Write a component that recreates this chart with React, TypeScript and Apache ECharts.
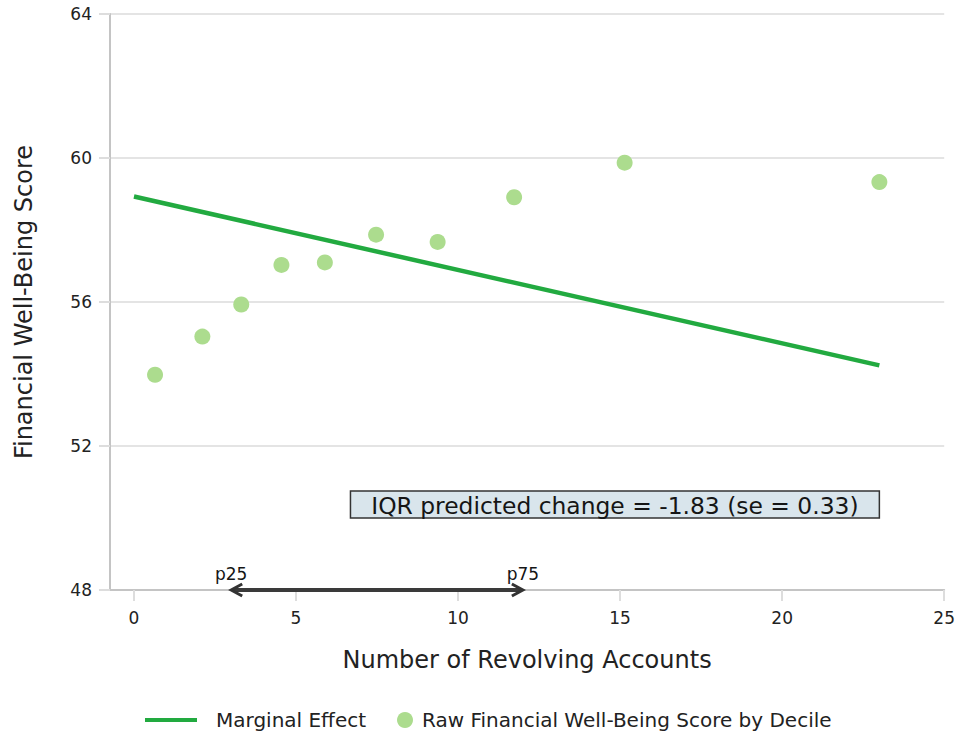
import React, { useEffect, useRef } from "react";
import * as echarts from "echarts";

const decileX = [0.65, 2.11, 3.31, 4.55, 5.89, 7.47, 9.37, 11.73, 15.14, 23.0];
const decileY = [53.98, 55.04, 55.93, 57.03, 57.1, 57.87, 57.67, 58.91, 59.87, 59.33];
const effectX = [0, 23];
const effectY = [58.93, 54.24];
const xTickValues = [0, 5, 10, 15, 20, 25];
const iqrFrom = 3;
const iqrTo = 12;
const iqrY = 48;
const iqrLabels = ["p25", "p75"];
const boxX = [6.68, 23];
const boxY = [50, 50.75];
const boxText = "IQR predicted change = -1.83 (se = 0.33)";
const seriesNames = ["Marginal Effect", "Raw Financial Well-Being Score by Decile"];

const FONT = "DejaVu Sans";

export default function App() {
  const ref = useRef<HTMLDivElement>(null);
  useEffect(() => {
    if (!ref.current) return;
    const chart = echarts.init(ref.current, undefined, { renderer: "svg" });
    const option: any = {
      animation: false,
      backgroundColor: "#ffffff",
      textStyle: { fontFamily: FONT },
      grid: { left: 110, right: 12, top: 14, bottom: 144, containLabel: false },
      legend: [
        {
          data: [{ name: seriesNames[0], icon: "rect" }],
          left: 145,
          top: 710,
          padding: 0,
          itemWidth: 52,
          itemHeight: 4,
          textStyle: { fontSize: 20, color: "#222", fontFamily: FONT, padding: [0, 0, 0, 14] },
        },
        {
          data: [{ name: seriesNames[1], icon: "circle" }],
          left: 397,
          top: 710,
          padding: 0,
          itemWidth: 16,
          itemHeight: 16,
          textStyle: { fontSize: 20, color: "#222", fontFamily: FONT, padding: [0, 0, 0, 4] },
        },
      ],
      xAxis: {
        type: "value",
        min: -0.74,
        max: 25,
        name: "Number of Revolving Accounts",
        nameLocation: "middle",
        nameGap: 58,
        nameTextStyle: { fontSize: 24, color: "#222", fontFamily: FONT },
        axisLine: { show: true, onZero: false, lineStyle: { color: "#c4c4c4", width: 2 } },
        axisTick: { show: true, length: 11, customValues: xTickValues, lineStyle: { color: "#dddddd", width: 2 } },
        axisLabel: { customValues: xTickValues, fontSize: 17, color: "#222", margin: 19, fontFamily: FONT },
        splitLine: { show: false },
      },
      yAxis: {
        type: "value",
        min: 48,
        max: 64,
        interval: 4,
        name: "Financial Well-Being Score",
        nameLocation: "middle",
        nameRotate: 90,
        nameGap: 74,
        nameTextStyle: { fontSize: 24, color: "#222", fontFamily: FONT },
        axisLine: { show: true, onZero: false, lineStyle: { color: "#c4c4c4", width: 2 } },
        axisTick: { show: true, length: 11, lineStyle: { color: "#dddddd", width: 2 } },
        axisLabel: { fontSize: 17, color: "#222", margin: 18, fontFamily: FONT },
        splitLine: { show: true, lineStyle: { color: "#e4e4e4", width: 2 } },
      },
      series: [
        {
          name: seriesNames[1],
          type: "scatter",
          symbol: "circle",
          symbolSize: 16,
          itemStyle: { color: "#acdc8e", opacity: 1 },
          data: decileX.map((x, i) => [x, decileY[i]]),
          z: 3,
        },
        {
          name: seriesNames[0],
          type: "line",
          symbol: "none",
          lineStyle: { color: "#22aa40", width: 4.5 },
          itemStyle: { color: "#22aa40" },
          data: effectX.map((x, i) => [x, effectY[i]]),
          z: 4,
        },
        {
          type: "custom",
          clip: false,
          silent: true,
          z: 5,
          data: [[boxX[0], boxX[1], boxY[0], boxY[1]]],
          renderItem: (params: any, api: any) => {
            const p0 = api.coord([api.value(0), api.value(3)]);
            const p1 = api.coord([api.value(1), api.value(2)]);
            return {
              type: "group",
              children: [
                {
                  type: "rect",
                  shape: { x: p0[0], y: p0[1], width: p1[0] - p0[0], height: p1[1] - p0[1] },
                  style: { fill: "#d9e5ec", stroke: "#333333", lineWidth: 1.5 },
                },
                {
                  type: "text",
                  x: (p0[0] + p1[0]) / 2,
                  y: (p0[1] + p1[1]) / 2 + 1,
                  style: {
                    text: boxText,
                    fontSize: 23.4,
                    fontFamily: FONT,
                    fill: "#151515",
                    align: "center",
                    verticalAlign: "middle",
                  },
                },
              ],
            };
          },
        },
        {
          type: "custom",
          clip: false,
          silent: true,
          z: 6,
          data: [[iqrFrom, iqrTo, iqrY]],
          renderItem: (params: any, api: any) => {
            const s = api.coord([api.value(0), api.value(2)]);
            const e = api.coord([api.value(1), api.value(2)]);
            const head = 11;
            const half = 6;
            const stroke = { stroke: "#333333", lineWidth: 3, fill: "none" };
            return {
              type: "group",
              children: [
                { type: "line", shape: { x1: s[0] + 1, y1: s[1], x2: e[0] - 1, y2: e[1] }, style: { stroke: "#3a3a3a", lineWidth: 4 } },
                {
                  type: "polyline",
                  shape: { points: [[s[0] + head, s[1] - half], [s[0], s[1]], [s[0] + head, s[1] + half]] },
                  style: stroke,
                },
                {
                  type: "polyline",
                  shape: { points: [[e[0] - head, e[1] - half], [e[0], e[1]], [e[0] - head, e[1] + half]] },
                  style: stroke,
                },
                {
                  type: "text",
                  x: s[0],
                  y: s[1] - 16,
                  style: { text: iqrLabels[0], fontSize: 17, fontFamily: FONT, fill: "#151515", align: "center", verticalAlign: "middle" },
                },
                {
                  type: "text",
                  x: e[0],
                  y: e[1] - 16,
                  style: { text: iqrLabels[1], fontSize: 17, fontFamily: FONT, fill: "#151515", align: "center", verticalAlign: "middle" },
                },
              ],
            };
          },
        },
      ],
    };
    chart.setOption(option);
    return () => chart.dispose();
  }, []);
  return <div ref={ref} style={{ position: "fixed", left: 0, top: 0, width: 958, height: 734, background: "#fff" }} />;
}
